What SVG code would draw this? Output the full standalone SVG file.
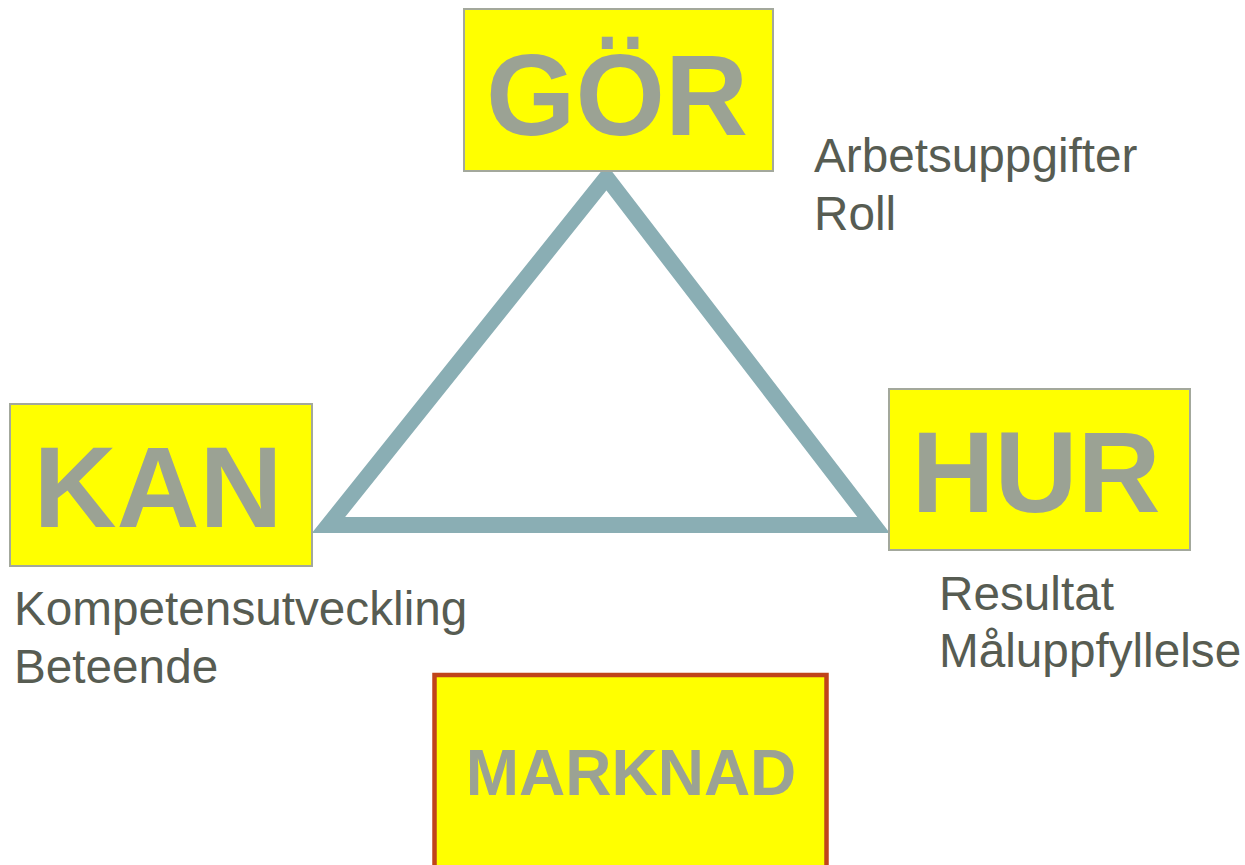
<svg xmlns="http://www.w3.org/2000/svg" width="1245" height="865" viewBox="0 0 1245 865">
<style>
.box{fill:#ffff00;stroke:#a3a89c;stroke-width:2}
.big{font-family:"Liberation Sans",Arial,sans-serif;font-weight:bold;fill:#9ba294;text-anchor:middle}
.lbl{font-family:"Liberation Sans",Arial,sans-serif;font-size:47.7px;fill:#575c52}
</style>
<rect width="1245" height="865" fill="#ffffff"/>
<g id="connectors">
<polygon points="606.5,177.5 328.5,525 873.5,525" fill="none" stroke="#8aaeb4" stroke-width="16" stroke-miterlimit="10"/>
</g>
<g id="gor">
<rect class="box" x="464" y="9" width="309" height="162"/>
<text class="big" x="617" y="135" font-size="115">GÖR</text>
</g>
<g id="kan">
<rect class="box" x="10" y="404" width="302" height="162"/>
<text class="big" x="158" y="527" font-size="115">KAN</text>
</g>
<g id="hur">
<rect class="box" x="889" y="389" width="301" height="161"/>
<text class="big" x="1036" y="512" font-size="115">HUR</text>
</g>
<g id="marknad">
<rect x="434.5" y="675" width="392" height="200" fill="#ffff00" stroke="#c0441a" stroke-width="4.5"/>
<text class="big" x="631" y="795" font-size="64">MARKNAD</text>
</g>
<g id="labels">
<text class="lbl" x="814" y="172">Arbetsuppgifter</text>
<text class="lbl" x="814" y="230">Roll</text>
<text class="lbl" x="14" y="625">Kompetensutveckling</text>
<text class="lbl" x="14" y="683">Beteende</text>
<text class="lbl" x="939" y="610">Resultat</text>
<text class="lbl" x="939" y="667">Måluppfyllelse</text>
</g>
</svg>
